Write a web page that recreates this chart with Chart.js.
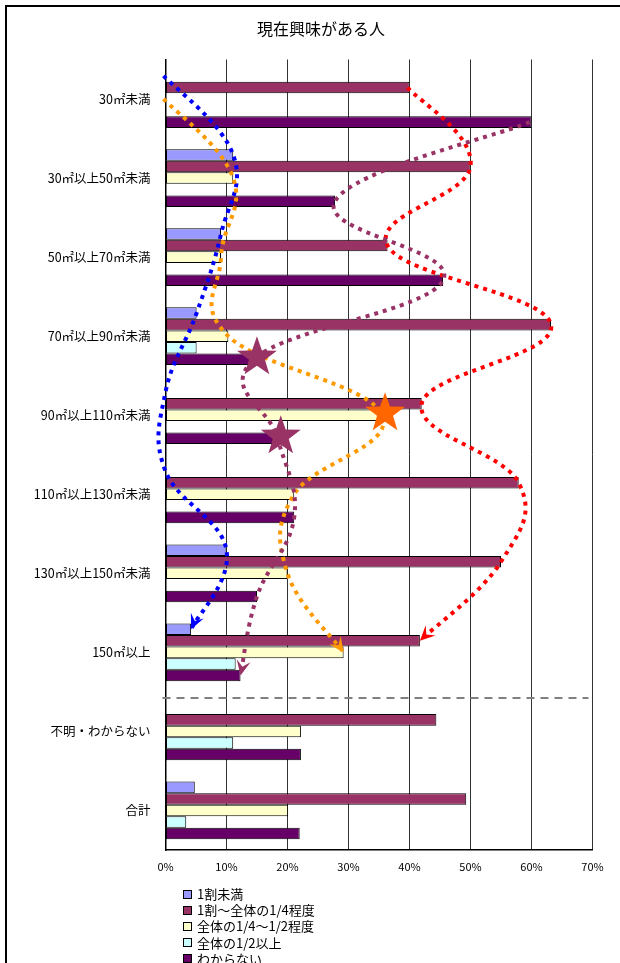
<!DOCTYPE html>
<html lang="ja">
<head>
    <meta charset="UTF-8">
    <title>現在興味がある人</title>
    <style>
        body {
            margin: 0;
            padding: 0;
            background-color: #fff;
            font-family: "Noto Sans CJK JP", sans-serif;
        }

        .frame {
            position: absolute;
            left: 5px;
            top: 5px;
            width: 700px;
            height: 1000px;
            border-left: 2px solid #000;
            border-top: 2px solid #000;
            pointer-events: none;
        }

        .chart-box {
            position: absolute;
            left: 0;
            top: 0;
            width: 620px;
            height: 963px;
        }

        #title {
            position: absolute;
            left: 221px;
            width: 200px;
            top: 17px;
            text-align: center;
            font-size: 16px;
            line-height: 22px;
            color: #000;
        }

        #legend {
            position: absolute;
            left: 183px;
            top: 886px;
            font-size: 13px;
            line-height: 16.2px;
            color: #000;
        }

        #legend .item {
            display: flex;
            align-items: center;
            white-space: nowrap;
        }

        #legend .box {
            width: 7px;
            height: 7px;
            border: 1px solid #000;
            margin-right: 5px;
        }
    </style>
</head>
<body>

    <div class="chart-box">
        <canvas id="barChart"></canvas>
    </div>
    <div class="frame"></div>
    <div id="title">現在興味がある人</div>
    <div id="legend"></div>

    <script src="https://cdn.jsdelivr.net/npm/chart.js"></script>
    <script>
        // Categories (floor area) and answer groups
        const categories = ['30㎡未満', '30㎡以上50㎡未満', '50㎡以上70㎡未満', '70㎡以上90㎡未満', '90㎡以上110㎡未満',
            '110㎡以上130㎡未満', '130㎡以上150㎡未満', '150㎡以上', '不明・わからない', '合計'];
        const seriesLabels = ['1割未満', '1割～全体の1/4程度', '全体の1/4～1/2程度', '全体の1/2以上', 'わからない'];
        const xTicks = [0, 10, 20, 30, 40, 50, 60, 70];

        // Values in %
        const lessThanTenth = [0, 11.1, 9.1, 5.1, 0, 0, 10.0, 4.2, 0, 4.8];
        const upToQuarter = [40.0, 50.0, 36.4, 63.2, 42.0, 57.9, 55.0, 41.7, 44.4, 49.3];
        const quarterToHalf = [0, 11.1, 9.1, 10.3, 35.5, 21.1, 20.0, 29.2, 22.2, 20.1];
        const overHalf = [0, 0, 0, 5.1, 0, 0, 0, 11.5, 11.1, 3.4];
        const dontKnow = [60.0, 27.8, 45.5, 14.5, 18.4, 21.1, 15.0, 12.3, 22.2, 22.0];

        const seriesColors = ['#9999FF', '#993366', '#FFFFCC', '#CCFFFF', '#660066'];

        // hand drawn trend arrows over the first 8 categories (dataset index -> colour)
        const trendLines = [
            { series: 0, color: '#0000FF' },
            { series: 2, color: '#FF9900' },
            { series: 1, color: '#FF0000' },
            { series: 4, color: '#993366' }
        ];
        const trendCount = 8;
        // stars: [dataset index, category index, colour]
        const stars = [[4, 3, '#993366'], [4, 4, '#993366'], [2, 4, '#FF6600']];

        const allSeries = [lessThanTenth, upToQuarter, quarterToHalf, overHalf, dontKnow];

        // small helpers for the annotation plugin
        function drawArrowHead(ctx, from, to, color) {
            const ang = Math.atan2(to.y - from.y, to.x - from.x);
            const len = 15, wid = 7;
            ctx.save();
            ctx.fillStyle = color;
            ctx.translate(to.x, to.y);
            ctx.rotate(ang);
            ctx.beginPath();
            ctx.moveTo(0, 0);
            ctx.lineTo(-len, -wid);
            ctx.lineTo(-len * 0.6, 0);
            ctx.lineTo(-len, wid);
            ctx.closePath();
            ctx.fill();
            ctx.restore();
        }

        function drawStar(ctx, cx, cy, r, color) {
            ctx.save();
            ctx.fillStyle = color;
            ctx.beginPath();
            for (let i = 0; i < 10; i++) {
                const rad = i % 2 === 0 ? r : r * 0.4;
                const a = -Math.PI / 2 + i * Math.PI / 5;
                const px = cx + rad * Math.cos(a);
                const py = cy + rad * Math.sin(a);
                if (i === 0) ctx.moveTo(px, py); else ctx.lineTo(px, py);
            }
            ctx.closePath();
            ctx.fill();
            ctx.restore();
        }

        const annotationPlugin = {
            id: 'annotations',
            afterDatasetsDraw(chart) {
                const ctx = chart.ctx;
                const yScale = chart.scales.y;
                const xScale = chart.scales.x;

                // dashed separator between 150㎡以上 and 不明・わからない
                const ySep = (yScale.getPixelForValue(7) + yScale.getPixelForValue(8)) / 2 + 6;
                ctx.save();
                ctx.strokeStyle = '#808080';
                ctx.lineWidth = 2;
                ctx.setLineDash([8, 6]);
                ctx.beginPath();
                ctx.moveTo(chart.chartArea.left - 3, ySep);
                ctx.lineTo(chart.chartArea.right - 4, ySep);
                ctx.stroke();
                ctx.restore();

                // dotted curves through the bar ends
                trendLines.forEach(t => {
                    const meta = chart.getDatasetMeta(t.series);
                    const pts = [];
                    for (let i = 0; i < trendCount; i++) {
                        const bar = meta.data[i];
                        pts.push({ x: xScale.getPixelForValue(allSeries[t.series][i]), y: bar.y });
                    }
                    ctx.save();
                    ctx.strokeStyle = t.color;
                    ctx.lineWidth = 4;
                    ctx.setLineDash([4, 5]);
                    ctx.beginPath();
                    ctx.moveTo(pts[0].x - 2, pts[0].y);
                    for (let i = 0; i < pts.length - 1; i++) {
                        const p0 = pts[i - 1] || pts[i];
                        const p1 = pts[i];
                        const p2 = pts[i + 1];
                        const p3 = pts[i + 2] || p2;
                        const c1 = { x: p1.x + (p2.x - p0.x) / 5, y: p1.y + (p2.y - p0.y) / 5 };
                        const c2 = { x: p2.x - (p3.x - p1.x) / 5, y: p2.y - (p3.y - p1.y) / 5 };
                        ctx.bezierCurveTo(c1.x, c1.y, c2.x, c2.y, p2.x, p2.y);
                    }
                    ctx.stroke();
                    ctx.restore();
                    const last = pts[pts.length - 1];
                    const prev = pts[pts.length - 2];
                    const dir = { x: last.x - (last.x - prev.x) / 5, y: last.y - (last.y - prev.y) / 5 };
                    drawArrowHead(ctx, dir, last, t.color);
                });

                stars.forEach(([s, i, color]) => {
                    const bar = chart.getDatasetMeta(s).data[i];
                    drawStar(ctx, xScale.getPixelForValue(allSeries[s][i]) + 3, bar.y - 2, 21, color);
                });
            }
        };

        const datasets = seriesLabels.map((label, i) => ({
            label: label,
            data: allSeries[i],
            backgroundColor: seriesColors[i],
            borderColor: '#000',
            borderWidth: 1,
            borderSkipped: false,
            categoryPercentage: 0.73,
            barPercentage: 1.0
        }));

        const ctx = document.getElementById('barChart').getContext('2d');
        const barChart = new Chart(ctx, {
            type: 'bar',
            data: {
                labels: categories,
                datasets: datasets
            },
            options: {
                indexAxis: 'y',
                responsive: true,
                maintainAspectRatio: false,
                animation: false,
                layout: {
                    padding: { top: 59.5, left: 0, right: 27.5, bottom: 83 }
                },
                plugins: {
                    legend: { display: false },
                    tooltip: { enabled: false },
                    title: { display: false }
                },
                scales: {
                    x: {
                        min: 0,
                        max: 70,
                        afterFit(scale) { scale.height = 30; },
                        afterBuildTicks(scale) { scale.ticks = xTicks.map(v => ({ value: v })); },
                        ticks: {
                            color: '#000',
                            font: { family: 'Noto Sans CJK JP', size: 11 },
                            padding: 10,
                            callback: v => v + '%'
                        },
                        grid: { color: '#333', lineWidth: 1, drawTicks: false },
                        border: { color: '#000', width: 1.5 }
                    },
                    y: {
                        afterFit(scale) { scale.width = 165.5; },
                        ticks: {
                            color: '#000',
                            autoSkip: false,
                            font: { family: 'Noto Sans CJK JP', size: 12.5 },
                            padding: 7
                        },
                        grid: { display: false },
                        border: { color: '#000', width: 1.5 }
                    }
                }
            },
            plugins: [annotationPlugin]
        });

        // vertical legend list
        const legendEl = document.getElementById('legend');
        seriesLabels.forEach((label, i) => {
            const row = document.createElement('div');
            row.className = 'item';
            row.innerHTML = '<span class="box" style="background:' + seriesColors[i] + '"></span><span>' + label + '</span>';
            legendEl.appendChild(row);
        });
    </script>

</body>
</html>
